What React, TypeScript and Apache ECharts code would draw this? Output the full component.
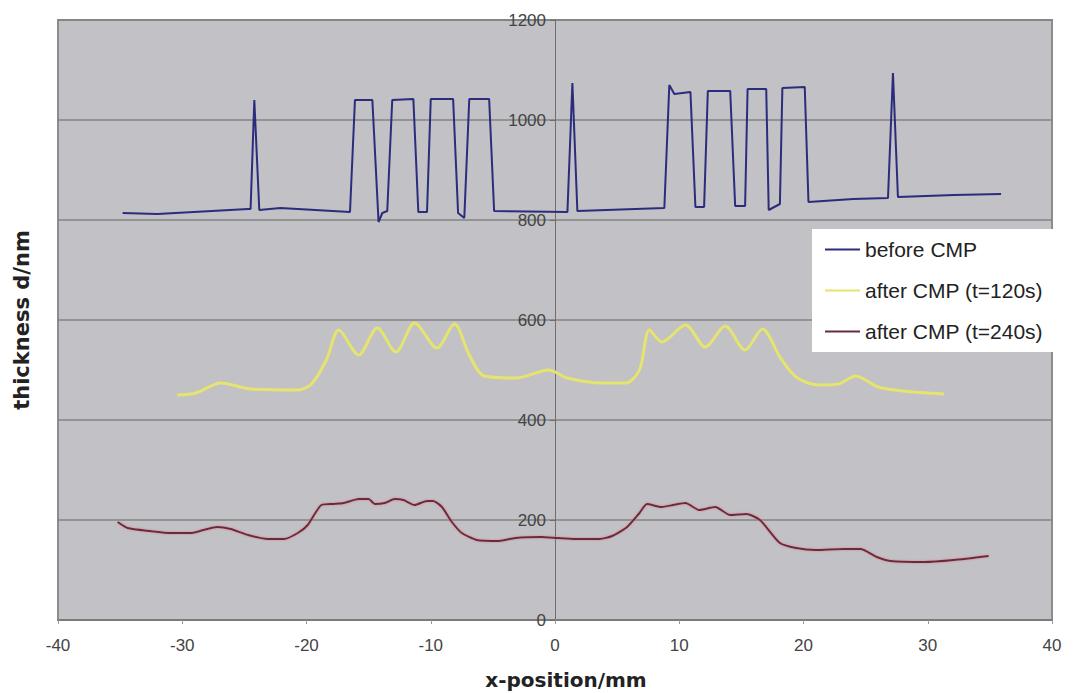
import React, { useEffect, useRef } from "react";
import * as echarts from "echarts";

const seriesNames = ["before CMP", "after CMP (t=120s)", "after CMP (t=240s)"];

const beforeCmp: [number, number][] = [
  [-34.8, 814], [-32.0, 812], [-24.7, 822], [-24.5, 822], [-24.2, 1040], [-23.8, 820],
  [-22.1, 824], [-16.5, 816], [-16.1, 1040], [-14.7, 1040], [-14.2, 796], [-13.9, 814],
  [-13.5, 818], [-13.1, 1040], [-11.4, 1042], [-11.0, 816], [-10.3, 816], [-10.0, 1042],
  [-8.2, 1042], [-7.8, 814], [-7.3, 804], [-6.9, 1042], [-5.3, 1042], [-4.9, 818],
  [1.0, 816], [1.4, 1074], [1.8, 818], [8.8, 824], [9.2, 1070], [9.6, 1052],
  [10.9, 1056], [11.3, 826], [12.0, 826], [12.3, 1058], [14.1, 1058], [14.5, 828],
  [15.3, 828], [15.5, 1062], [17.0, 1062], [17.2, 820], [18.1, 832], [18.3, 1064],
  [20.1, 1066], [20.4, 836], [24.0, 842], [26.8, 844], [27.2, 1094], [27.6, 846],
  [32.1, 850], [35.9, 852],
];

const after120: [number, number][] = [
  [-30.4, 450], [-28.9, 454], [-26.9, 474], [-24.5, 462], [-20.7, 460], [-19.6, 472],
  [-18.4, 520], [-17.4, 580], [-15.8, 530], [-14.3, 584], [-12.8, 536], [-11.3, 594],
  [-9.5, 544], [-8.1, 592], [-6.9, 530], [-5.7, 488], [-3.1, 484], [-0.5, 500],
  [1.0, 484], [3.8, 474], [5.7, 474], [6.8, 500], [7.6, 580], [8.6, 556],
  [10.5, 590], [12.1, 546], [13.7, 588], [15.3, 540], [16.7, 582], [18.1, 526],
  [19.4, 486], [21.2, 470], [22.8, 472], [24.2, 488], [26.0, 466], [28.0, 458],
  [31.3, 452],
];

const after240: [number, number][] = [
  [-35.2, 196], [-34.4, 184], [-32.6, 178], [-30.9, 174], [-29.3, 174], [-28.3, 180],
  [-27.2, 186], [-26.1, 182], [-24.7, 170], [-23.1, 162], [-21.8, 162], [-20.7, 174],
  [-19.9, 190], [-18.8, 230], [-17.8, 232], [-17.0, 234], [-15.8, 242], [-15.0, 242],
  [-14.5, 232], [-13.7, 234], [-12.9, 242], [-12.2, 240], [-11.3, 230], [-10.3, 238],
  [-9.8, 238], [-9.1, 226], [-8.3, 196], [-7.5, 174], [-6.3, 160], [-4.5, 158],
  [-3.2, 164], [-1.1, 166], [0.2, 164], [1.6, 162], [3.6, 162], [4.6, 168],
  [5.8, 186], [6.8, 214], [7.4, 232], [8.6, 226], [9.5, 230], [10.5, 234],
  [11.6, 220], [12.9, 226], [14.1, 210], [15.4, 212], [16.5, 200], [18.1, 154],
  [19.4, 144], [21.0, 140], [23.2, 142], [24.6, 142], [25.9, 126], [27.0, 118],
  [29.7, 116], [32.1, 120], [34.9, 128],
];

const xMin = -40, xMax = 40, xStep = 10;
const yMin = 0, yMax = 1200, yStep = 200;

export default function App() {
  const ref = useRef<HTMLDivElement>(null);
  useEffect(() => {
    if (!ref.current) return;
    const chart = echarts.init(ref.current, undefined, { renderer: "svg" });
    const labelFont = { fontFamily: "Liberation Sans, Arial, sans-serif", fontSize: 17, color: "#444" };
    const plotLeft = 58, plotRight = 1052;
    const zeroX = plotLeft + ((0 - xMin) / (xMax - xMin)) * (plotRight - plotLeft);
    chart.setOption({
      animation: false,
      backgroundColor: "#ffffff",
      grid: [
        {
          left: plotLeft, right: 1074 - plotRight, top: 20, bottom: 73,
          show: true, backgroundColor: "#c1c1c6", borderColor: "#8c8c8c", borderWidth: 2,
        },
        { left: zeroX, width: 1, top: 20, bottom: 73, show: false },
      ],
      xAxis: [
        {
          type: "value", gridIndex: 0, min: xMin, max: xMax, interval: xStep,
          axisLine: { show: true, onZero: false, lineStyle: { color: "#7a7a7a", width: 2 } },
          axisTick: { show: true, length: 4, lineStyle: { color: "#9a9a9a" } },
          axisLabel: { ...labelFont, margin: 17, formatter: (v: number) => String(v) },
          splitLine: { show: false },
        },
        {
          type: "value", gridIndex: 1, min: 0, max: 1, show: false,
        },
      ],
      yAxis: [
        {
          type: "value", gridIndex: 0, min: yMin, max: yMax, interval: yStep,
          axisLine: { show: false },
          axisTick: { show: false },
          axisLabel: { show: false },
          splitLine: { show: true, lineStyle: { color: "#838383", width: 1.5 } },
        },
        {
          type: "value", gridIndex: 1, min: yMin, max: yMax, interval: yStep, position: "left",
          axisLine: { show: true, onZero: false, lineStyle: { color: "#6e6e6e", width: 1 } },
          axisTick: { show: true, length: 5, lineStyle: { color: "#6e6e6e" } },
          axisLabel: { ...labelFont, margin: 9, formatter: (v: number) => String(v) },
          splitLine: { show: false },
        },
      ],
      legend: {
        orient: "vertical", left: 812, top: 229,
        padding: [10, 14, 10, 13],
        backgroundColor: "#ffffff",
        itemWidth: 35, itemHeight: 2, itemGap: 20,
        icon: "rect",
        textStyle: { fontFamily: "Liberation Sans, Arial, sans-serif", fontSize: 21, color: "#222" },
        data: seriesNames,
      },
      graphic: [
        {
          type: "text", x: 566, y: 680,
          style: {
            text: "x-position/mm", fontFamily: "DejaVu Sans", fontWeight: "bold", fontSize: 20,
            fill: "#222", align: "center", verticalAlign: "middle",
          },
        },
        {
          type: "text", x: 22, y: 320, rotation: Math.PI / 2,
          style: {
            text: "thickness d/nm", fontFamily: "DejaVu Sans", fontWeight: "bold", fontSize: 21,
            fill: "#222", align: "center", verticalAlign: "middle",
          },
        },
      ],
      series: [
        {
          name: seriesNames[0], type: "line", data: beforeCmp, symbol: "none",
          xAxisIndex: 0, yAxisIndex: 0,
          lineStyle: { color: "#2c2c7c", width: 2 }, itemStyle: { color: "#2c2c7c" },
        },
        {
          name: seriesNames[1], type: "line", data: after120, symbol: "none", smooth: 0.3,
          xAxisIndex: 0, yAxisIndex: 0,
          lineStyle: { color: "#e4e46e", width: 3 }, itemStyle: { color: "#e4e46e" },
        },
        {
          name: seriesNames[2], type: "line", data: after240, symbol: "none", smooth: 0.2,
          xAxisIndex: 0, yAxisIndex: 0,
          lineStyle: { color: "#6a2c3a", width: 2, shadowColor: "rgba(220,120,130,0.8)", shadowBlur: 2 },
          itemStyle: { color: "#6a2c3a" },
        },
      ],
    });
    return () => chart.dispose();
  }, []);
  return <div ref={ref} style={{ width: 1074, height: 693, position: "absolute", left: 0, top: 0 }} />;
}
